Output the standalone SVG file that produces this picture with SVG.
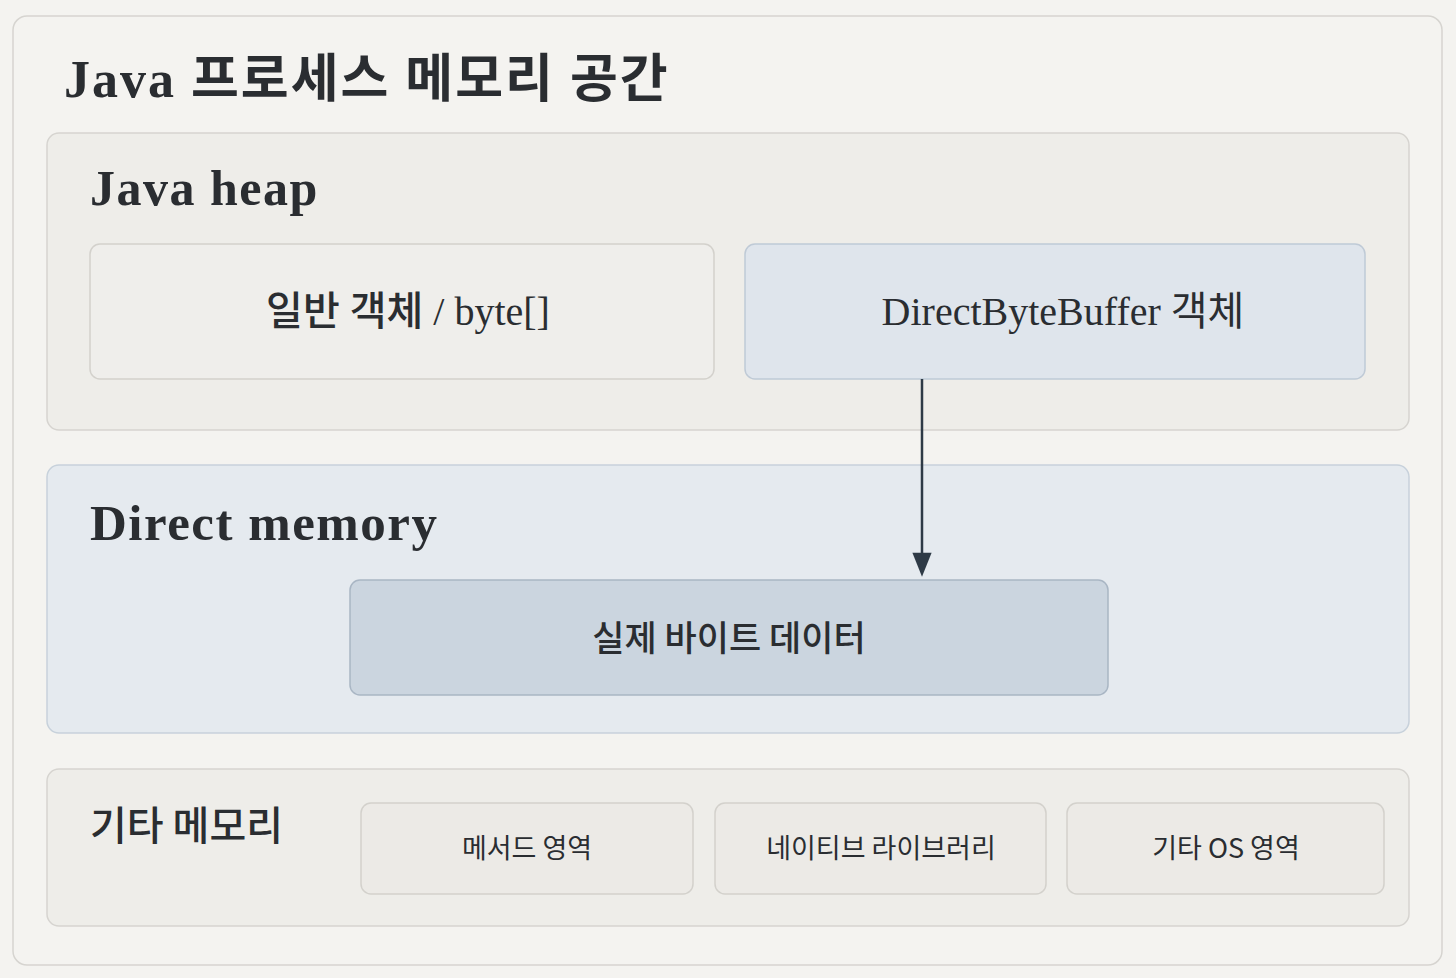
<svg xmlns="http://www.w3.org/2000/svg" width="1456" height="978" viewBox="0 0 1456 978">
<defs>
<style>
.t{font-family:"Liberation Serif","Noto Sans CJK KR",serif;fill:#2a2d31}
.k{font-family:"Noto Sans CJK KR","Liberation Sans",sans-serif;fill:#2a2d31}
.box{stroke-width:1.5}
</style>
<marker id="ah" viewBox="0 0 24 30" refX="24" refY="15" markerWidth="30" markerHeight="24" markerUnits="userSpaceOnUse" orient="auto"><path d="M0,3 L30,15 L0,27 z" fill="#2e3a46"/></marker>
</defs>
<rect width="1456" height="978" fill="#f4f3f0"/>
<g id="outer"><rect x="13" y="16" width="1429" height="949" rx="14" fill="#f4f3f0" stroke="#d6d4d0" class="box"/>
<text x="64" y="97" class="t" font-size="52" font-weight="bold" letter-spacing="2">Java 프로세스 메모리 공간</text></g>
<g id="heap"><rect x="47" y="133" width="1362" height="297" rx="12" fill="#eeede9" stroke="#d6d4d0" class="box"/>
<text x="90" y="205" class="t" font-size="50" font-weight="bold" letter-spacing="1.5">Java heap</text></g>
<g id="obj"><rect x="90" y="244" width="624" height="135" rx="10" fill="#efeeeb" stroke="#d3d1cc" class="box"/>
<text x="408" y="325" class="t" font-size="40" text-anchor="middle" font-weight="500">일반 객체 / byte[]</text></g>
<g id="dbb"><rect x="745" y="244" width="620" height="135" rx="10" fill="#dfe5ec" stroke="#bfcad6" class="box"/>
<text x="1063" y="325" class="t" font-size="40" text-anchor="middle">DirectByteBuffer 객체</text></g>
<g id="direct"><rect x="47" y="465" width="1362" height="268" rx="12" fill="#e5eaef" stroke="#c7d1db" class="box"/>
<text x="90" y="540" class="t" font-size="51" font-weight="bold" letter-spacing="1.5">Direct memory</text></g>
<g id="bytes"><rect x="350" y="580" width="758" height="115" rx="10" fill="#cbd5df" stroke="#a9b6c4" class="box"/>
<text x="729" y="651" class="k" font-size="35" text-anchor="middle" font-weight="500">실제 바이트 데이터</text></g>
<g id="etc"><rect x="47" y="769" width="1362" height="157" rx="12" fill="#eeede9" stroke="#d6d4d0" class="box"/>
<text x="90" y="840" class="k" font-size="40" font-weight="500">기타 메모리</text></g>
<g id="m1"><rect x="361" y="803" width="332" height="91" rx="10" fill="#eceae6" stroke="#d3d1cc" class="box"/>
<text x="527" y="858" class="k" font-size="27" text-anchor="middle">메서드 영역</text></g>
<g id="m2"><rect x="715" y="803" width="331" height="91" rx="10" fill="#eceae6" stroke="#d3d1cc" class="box"/>
<text x="881" y="858" class="k" font-size="27" text-anchor="middle">네이티브 라이브러리</text></g>
<g id="m3"><rect x="1067" y="803" width="317" height="91" rx="10" fill="#eceae6" stroke="#d3d1cc" class="box"/>
<text x="1226" y="858" class="k" font-size="27" text-anchor="middle">기타 OS 영역</text></g>
<g id="connectors"><line x1="922" y1="379" x2="922" y2="572" stroke="#2e3a46" stroke-width="2.5" marker-end="url(#ah)"/></g>
</svg>
